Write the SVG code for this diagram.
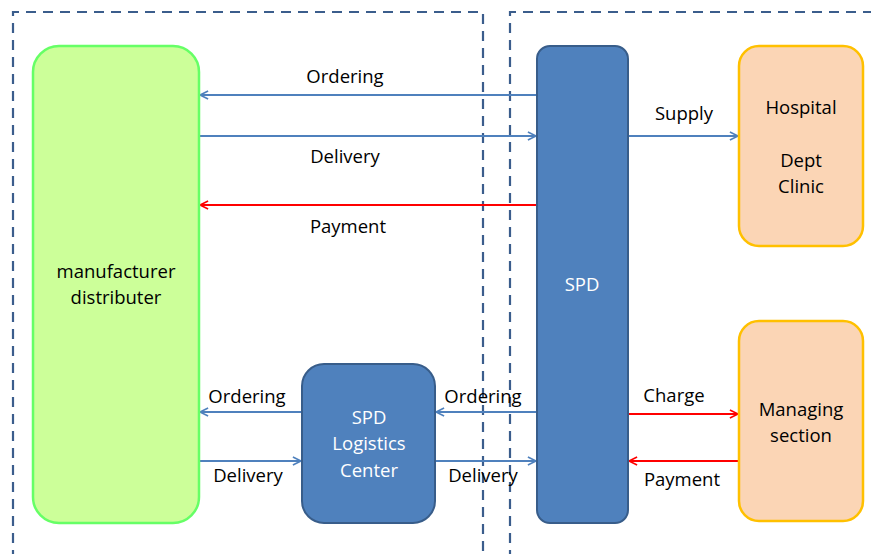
<svg xmlns="http://www.w3.org/2000/svg" width="871" height="554" viewBox="0 0 871 554">
  <defs>
    <style>
      .zone { fill: none; stroke: #3b5d8c; stroke-width: 2.2; stroke-dasharray: 10 7; }
      .green { fill: #ccff99; stroke: #66ff66; stroke-width: 2.5; }
      .blue { fill: #4f81bd; stroke: #385d8a; stroke-width: 2; }
      .peach { fill: #fbd5b5; stroke: #ffc000; stroke-width: 2.5; }
      .lbl { font-family: "Open Sans", "Liberation Sans", sans-serif; font-size: 18.5px; fill: #000; text-anchor: middle; }
      .wlbl { font-family: "Open Sans", "Liberation Sans", sans-serif; font-size: 18.5px; fill: #fff; text-anchor: middle; }
      .bl { stroke: #4f81bd; stroke-width: 2; fill: none; marker-end: url(#ab); }
      .rd { stroke: #ff0000; stroke-width: 2; fill: none; marker-end: url(#ar); }
    </style>
    <marker id="ab" viewBox="0 0 10 10" refX="9" refY="5" markerWidth="9" markerHeight="9" markerUnits="userSpaceOnUse" orient="auto" overflow="visible">
      <path d="M0,0.5 L9,5 L0,9.5" fill="none" stroke="#4f81bd" stroke-width="1.8"/>
    </marker>
    <marker id="ar" viewBox="0 0 10 10" refX="9" refY="5" markerWidth="9" markerHeight="9" markerUnits="userSpaceOnUse" orient="auto" overflow="visible">
      <path d="M0,0.5 L9,5 L0,9.5" fill="none" stroke="#ff0000" stroke-width="1.8"/>
    </marker>
  </defs>

  <g id="zones">
    <path class="zone" d="M13,560 L13,12 L483,12 L483,560"/>
    <path class="zone" d="M510,560 L510,12 L880,12"/>
  </g>

  <g id="connectors">
    <line class="bl" x1="537" y1="95" x2="200" y2="95"/>
    <line class="bl" x1="200" y1="136" x2="536" y2="136"/>
    <line class="rd" x1="537" y1="205" x2="200" y2="205"/>
    <line class="bl" x1="628" y1="136" x2="738" y2="136"/>
    <line class="bl" x1="302" y1="412" x2="200" y2="412"/>
    <line class="bl" x1="537" y1="412" x2="436" y2="412"/>
    <line class="bl" x1="200" y1="461" x2="301" y2="461"/>
    <line class="bl" x1="435" y1="461" x2="536" y2="461"/>
    <line class="rd" x1="628" y1="414" x2="738" y2="414"/>
    <line class="rd" x1="739" y1="461" x2="629" y2="461"/>
    <text class="lbl" x="345" y="83">Ordering</text>
    <text class="lbl" x="345" y="163">Delivery</text>
    <text class="lbl" x="348" y="233">Payment</text>
    <text class="lbl" x="684" y="120">Supply</text>
    <text class="lbl" x="247" y="403">Ordering</text>
    <text class="lbl" x="248" y="482">Delivery</text>
    <text class="lbl" x="483" y="403">Ordering</text>
    <text class="lbl" x="483" y="482">Delivery</text>
    <text class="lbl" x="674" y="402">Charge</text>
    <text class="lbl" x="682" y="486">Payment</text>
  </g>

  <g id="manufacturer">
    <rect class="green" x="33" y="46" width="166" height="477" rx="26"/>
    <text class="lbl" x="116" y="278">manufacturer</text>
    <text class="lbl" x="116" y="304">distributer</text>
  </g>

  <g id="spd">
    <rect class="blue" x="537" y="46" width="91" height="477" rx="13"/>
    <text class="wlbl" x="582" y="291">SPD</text>
  </g>

  <g id="logistics">
    <rect class="blue" x="302" y="364" width="133" height="159" rx="22"/>
    <text class="wlbl" x="369" y="424">SPD</text>
    <text class="wlbl" x="369" y="450">Logistics</text>
    <text class="wlbl" x="369" y="477">Center</text>
  </g>

  <g id="hospital">
    <rect class="peach" x="739" y="46" width="124" height="200" rx="20"/>
    <text class="lbl" x="801" y="114">Hospital</text>
    <text class="lbl" x="801" y="167">Dept</text>
    <text class="lbl" x="801" y="193">Clinic</text>
  </g>

  <g id="managing">
    <rect class="peach" x="739" y="321" width="124" height="200" rx="20"/>
    <text class="lbl" x="801" y="416">Managing</text>
    <text class="lbl" x="801" y="442">section</text>
  </g>
</svg>
